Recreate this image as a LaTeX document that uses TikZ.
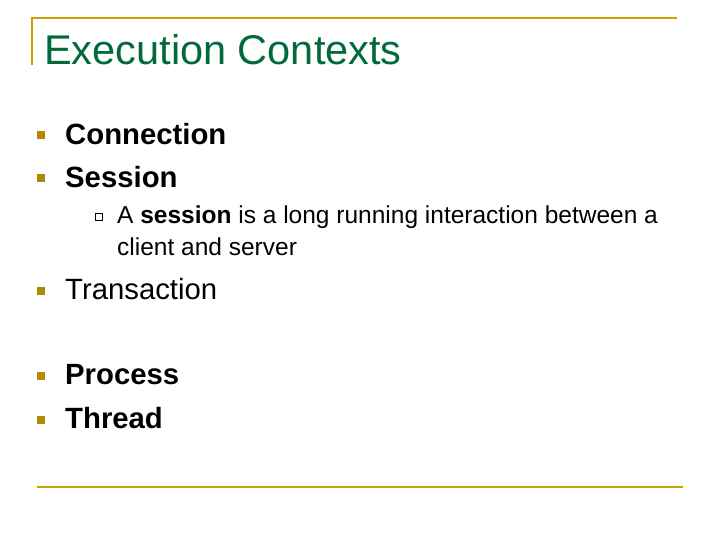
\documentclass[tikz,border=0pt]{standalone}
\usepackage{fontspec}
\setmainfont{Liberation Sans}
\usetikzlibrary{positioning}
\definecolor{rulegold}{HTML}{C9A200}
\definecolor{titlegreen}{HTML}{006A3A}
\definecolor{bulletgold}{HTML}{B08A00}
\tikzset{
  bullet-sq/.style={rectangle, fill=bulletgold, minimum size=8pt, inner sep=0pt},
  subbullet-sq/.style={rectangle, draw=black, line width=0.6pt, minimum size=7pt, inner sep=0pt},
  item-text/.style={anchor=west, inner sep=0pt, font=\fontsize{29.3}{34}\selectfont},
  sub-text/.style={anchor=north west, inner sep=0pt, align=left, font=\fontsize{24.5}{32}\selectfont}
}
\begin{document}
\begin{tikzpicture}[x=1pt, y=-1pt]
  \useasboundingbox (0,0) rectangle (720,540);

  % frame lines
  \draw[rulegold, line width=2.5pt] (32,65) -- (32,18) -- (677,18);
  \draw[rulegold, line width=2.5pt] (37,487) -- (683,487);

  \node[anchor=base west, inner sep=0pt, text=titlegreen, font=\fontsize{41.5}{46}\selectfont] (title) at (44,65) {Execution Contexts};

  % main items
  \node[bullet-sq] (b1) at (41,135) {};
  \node[item-text] (connection) at (65,134) {\bfseries Connection};
  \node[bullet-sq] (b2) at (41,178) {};
  \node[item-text] (session) at (65,177) {\bfseries Session};

  \node[subbullet-sq] (s1) at (99,217) {};
  \node[sub-text] (sessiontext) at (117,206) {A \textbf{session} is a long running interaction between a\\client and server};

  \node[bullet-sq] (b3) at (41,291) {};
  \node[item-text] (transaction) at (65,289) {Transaction};
  \node[bullet-sq] (b4) at (41,376) {};
  \node[item-text] (process) at (65,375) {\bfseries Process};
  \node[bullet-sq] (b5) at (41,420) {};
  \node[item-text] (thread) at (65,418) {\bfseries Thread};
\end{tikzpicture}
\end{document}
